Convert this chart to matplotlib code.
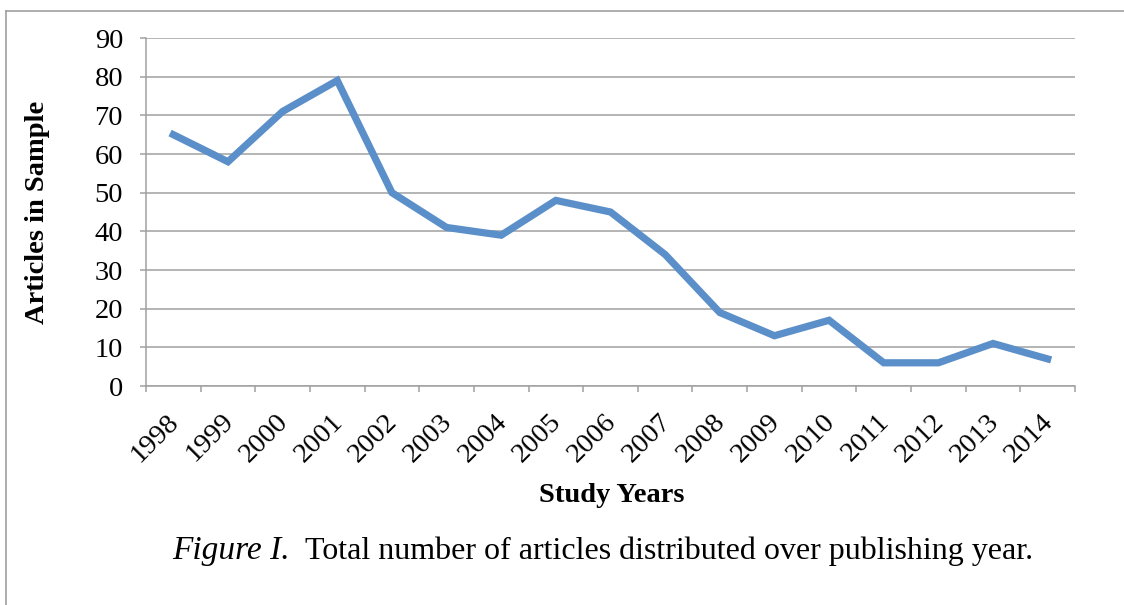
import numpy as np
import matplotlib
matplotlib.use("Agg")
from matplotlib import pyplot as plt
from matplotlib.lines import Line2D
from matplotlib.transforms import ScaledTranslation

years = ['1998', '1999', '2000', '2001', '2002', '2003', '2004', '2005', '2006',
         '2007', '2008', '2009', '2010', '2011', '2012', '2013', '2014']
articles = [65, 58, 71, 79, 50, 41, 39, 48, 45, 34, 19, 13, 17, 6, 6, 11, 7]
yticks = [0, 10, 20, 30, 40, 50, 60, 70, 80, 90]

plt.rcParams['font.family'] = ['Liberation Serif', 'DejaVu Serif']

W, H = 1124, 605
fig = plt.figure(figsize=(W / 100, H / 100), dpi=100)
ax = fig.add_axes([146 / W, 1 - 386 / H, (1075 - 146) / W, (386 - 38) / H])

x = np.arange(len(years))
ax.plot(x, articles, color='#5B8FC9', lw=5.2, solid_joinstyle='miter', zorder=3)

ax.set_xlim(-0.5, len(years) - 0.5)
ax.set_ylim(0, 90)
ax.set_yticks(yticks)
ax.set_yticklabels([str(v) for v in yticks], fontsize=20.5)
ax.yaxis.grid(True, color='#A0A0A0', lw=1.1)
ax.set_axisbelow(True)

# ticks at category boundaries, labels at centres
ax.set_xticks(np.arange(len(years) + 1) - 0.5)
ax.set_xticklabels([])
ax.set_xticks(x, minor=True)
ax.set_xticklabels(years, minor=True, rotation=45, ha='right', va='top',
                   rotation_mode='anchor', fontsize=20.5)
ax.tick_params(axis='x', which='minor', length=0, pad=8)
ax.tick_params(axis='x', which='major', length=4.5, width=1.1, color='#A0A0A0')
ax.tick_params(axis='y', length=4.5, width=1.1, color='#A0A0A0', pad=12)
shift = ScaledTranslation(-7 / 100, -12 / 100, fig.dpi_scale_trans)
for lab in ax.get_xticklabels(minor=True):
    lab.set_transform(lab.get_transform() + shift)

for s in ['top', 'right']:
    ax.spines[s].set_visible(False)
for s in ['left', 'bottom']:
    ax.spines[s].set_color('#A0A0A0')
    ax.spines[s].set_linewidth(1.1)

ax.set_ylabel('Articles in Sample', fontsize=20.5, fontweight='bold')
ax.yaxis.set_label_coords((50 - 146) / 929, 0.5)
fig.text(612 / W, 1 - 496 / H, 'Study Years', fontsize=20.5, fontweight='bold',
         ha='center', va='center')

fig.text(172 / W, 1 - 551 / H, 'Figure I.', fontsize=24, style='italic',
         ha='left', va='center')
fig.text(305 / W, 1 - 551 / H, 'Total number of articles distributed over publishing year.',
         fontsize=23, ha='left', va='center')

# outer frame (top and left edges)
fig.add_artist(Line2D([6 / W, 1], [1 - 11 / H, 1 - 11 / H], color='#A0A0A0', lw=1.2,
                      transform=fig.transFigure))
fig.add_artist(Line2D([6 / W, 6 / W], [0, 1 - 11 / H], color='#A0A0A0', lw=1.2,
                      transform=fig.transFigure))

fig.savefig('out.png', dpi=100)
